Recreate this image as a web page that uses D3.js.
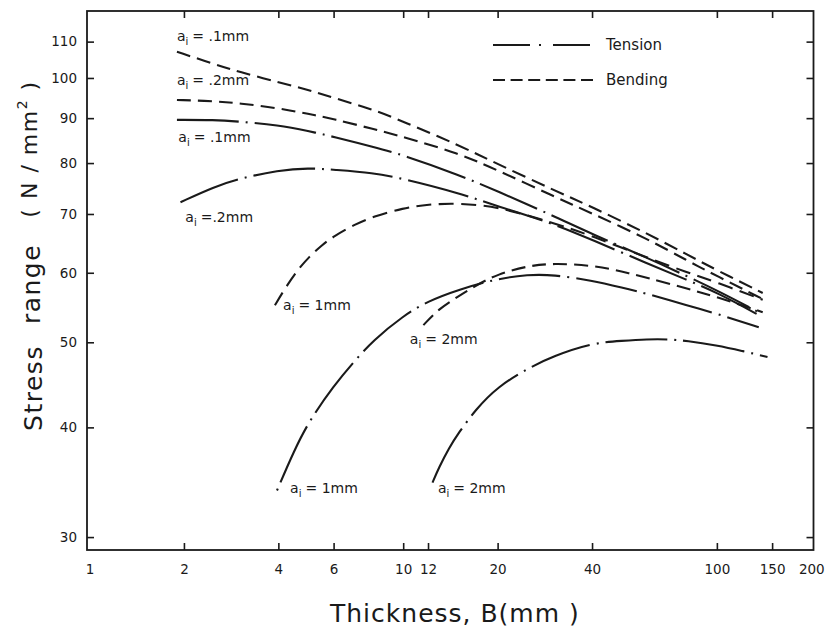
<!DOCTYPE html>
<html>
<head>
<meta charset="utf-8">
<script src="https://cdn.jsdelivr.net/npm/d3@7"></script>
<style>
  body { margin: 0; background: #fff; }
  svg { display: block; }
  text { font-family: "DejaVu Sans", sans-serif; fill: #1a1a1a; }
</style>
</head>
<body>
<div id="chart"></div>
<script>
// stress range vs plate thickness, log-log
const xTicks = [1, 2, 4, 6, 10, 12, 20, 40, 100, 150, 200];
const yTicks = [30, 40, 50, 60, 70, 80, 90, 100, 110];

// thickness B (mm) for the a_i = .1 and .2 mm curves
const thkSmall = [1.9, 2.5, 3, 4, 5, 6, 8, 10, 15, 20, 30, 40, 60, 80, 100, 140];
const bending01 = [107.1, 103.7, 101.6, 98.9, 96.9, 94.9, 92.1, 89.2, 83.9, 79.8, 74.6, 71.3, 66.5, 63.0, 60.4, 56.9];
const bending02 = [94.4, 94.1, 93.6, 92.4, 91.0, 89.8, 87.5, 85.7, 82.1, 78.5, 73.4, 70.1, 65.6, 62.0, 59.5, 56.0];
const tension01 = [89.6, 89.6, 89.2, 88.4, 87.0, 85.7, 83.5, 81.7, 77.6, 74.3, 69.7, 66.4, 62.4, 59.5, 57.3, 53.8];

const thkTension02 = [1.95, 2.5, 3, 4, 5, 6, 8, 10, 15, 20, 30, 40, 60, 80, 100, 140];
const tension02 = [72.2, 75.2, 76.8, 78.5, 79.0, 78.6, 78.0, 76.8, 74.0, 71.4, 68.3, 65.4, 61.5, 58.9, 57.0, 53.4];

const thkBending1 = [3.9, 4.2, 4.6, 5, 5.5, 6, 7, 8, 10, 12, 15, 20, 30, 40, 60, 80, 100, 140];
const bending1 = [55.1, 57.6, 60.4, 62.5, 64.5, 66.0, 68.1, 69.5, 71.1, 71.8, 72.0, 71.4, 68.4, 66.1, 62.4, 60.1, 58.5, 55.9];

const thkBending2 = [11.6, 13, 15, 17, 20, 25, 30, 40, 50, 60, 80, 100, 140];
const bending2 = [52.3, 54.6, 56.4, 58.0, 59.8, 61.1, 61.5, 61.2, 60.2, 59.2, 57.6, 56.3, 54.1];

const thkTension1 = [3.96, 4.5, 5, 6, 7, 8, 10, 12, 15, 20, 25, 30, 40, 50, 60, 80, 100, 136];
const tension1 = [33.9, 37.7, 40.6, 44.6, 47.6, 50.2, 53.6, 55.7, 57.4, 59.1, 59.7, 59.7, 58.8, 57.7, 56.8, 55.1, 53.9, 52.0];

const thkTension2 = [12.4, 13, 14, 15, 17, 20, 25, 30, 40, 50, 60, 70, 80, 100, 120, 145];
const tension2 = [34.6, 36.0, 37.9, 39.4, 41.9, 44.5, 46.7, 48.2, 49.9, 50.2, 50.4, 50.4, 50.2, 49.6, 48.9, 48.1];

const curveLabels = ["= .1mm", "= .2mm", "= .1mm", "=.2mm", "= 1mm", "= 2mm", "=  1mm", "=  2mm"];
// label anchor points in data units (thickness, stress)
const labelThk = [1.9, 1.9, 1.92, 2.02, 4.14, 10.5, 4.36, 12.9];
const labelStress = [110.2, 98.2, 84.6, 68.5, 54.4, 49.8, 33.7, 33.7];

const W = 828, H = 634;
const frame = { left: 87, right: 813.5, top: 11, bottom: 550 };
const ink = "#1a1a1a";

const svg = d3.select("#chart").append("svg")
    .attr("width", W)
    .attr("height", H);

svg.append("rect").attr("width", W).attr("height", H).attr("fill", "#fff");

const x = d3.scaleLog().domain([1, 200]).range([89.5, 811.3]);
const y = d3.scaleLog().domain([29.0, 119.2]).range([frame.bottom, frame.top]);

function styleAxis(g, withLabels) {
    g.select(".domain").remove();
    g.attr("color", ink).attr("font-family", "DejaVu Sans Condensed, DejaVu Sans, sans-serif").attr("font-size", 13.5);
    g.selectAll(".tick line").attr("stroke-width", 1.6);
    if (!withLabels) g.selectAll(".tick text").remove();
}

// bottom + top
const xb = svg.append("g")
    .attr("transform", "translate(0," + frame.bottom + ")")
    .call(d3.axisBottom(x).tickValues(xTicks).tickFormat(d => d).tickSizeInner(-7).tickSizeOuter(0).tickPadding(14));
styleAxis(xb, true);
xb.selectAll(".tick line").filter(d => d === 1 || d === 200).remove();

const xt = svg.append("g")
    .attr("transform", "translate(0," + frame.top + ")")
    .call(d3.axisTop(x).tickValues(xTicks.slice(1, -1)).tickSizeInner(-7).tickSizeOuter(0));
styleAxis(xt, false);

// left + right
const yl = svg.append("g")
    .attr("transform", "translate(" + frame.left + ",0)")
    .call(d3.axisLeft(y).tickValues(yTicks).tickFormat(d => d).tickSizeInner(-7).tickSizeOuter(0).tickPadding(10));
styleAxis(yl, true);

const yr = svg.append("g")
    .attr("transform", "translate(" + frame.right + ",0)")
    .call(d3.axisRight(y).tickValues(yTicks).tickSizeInner(-7).tickSizeOuter(0));
styleAxis(yr, false);

svg.append("rect")
    .attr("x", frame.left)
    .attr("y", frame.top)
    .attr("width", frame.right - frame.left)
    .attr("height", frame.bottom - frame.top)
    .attr("fill", "none")
    .attr("stroke", ink)
    .attr("stroke-width", 1.8);

const dashTension = "62,7,2,7";
const dashBending = "14,7";

const series = [
    { thk: thkSmall, s: bending01, dash: dashBending, offset: 0 },
    { thk: thkSmall, s: bending02, dash: dashBending, offset: 0 },
    { thk: thkSmall, s: tension01, dash: dashTension, offset: 0 },
    { thk: thkTension02, s: tension02, dash: dashTension, offset: 0 },
    { thk: thkBending1, s: bending1, dash: "15,7.5", offset: 0 },
    { thk: thkBending2, s: bending2, dash: "14,7", offset: 0 },
    { thk: thkTension1, s: tension1, dash: dashTension, offset: 69 },
    { thk: thkTension2, s: tension2, dash: dashTension, offset: 0 }
];

const line = d3.line()
    .x(d => x(d[0]))
    .y(d => y(d[1]))
    .curve(d3.curveBasis);

svg.selectAll(".curve")
    .data(series)
    .enter().append("path")
    .attr("class", "curve")
    .attr("d", d => line(d.thk.map((t, i) => [t, d.s[i]])))
    .attr("fill", "none")
    .attr("stroke", ink)
    .attr("stroke-width", 2.1)
    .attr("stroke-dasharray", d => d.dash)
    .attr("stroke-dashoffset", d => d.offset);

// a_i labels
const lab = svg.selectAll(".clabel")
    .data(curveLabels)
    .enter().append("text")
    .attr("class", "clabel")
    .attr("x", (d, i) => x(labelThk[i]))
    .attr("y", (d, i) => y(labelStress[i]))
    .attr("font-size", 14);
lab.append("tspan").text("a");
lab.append("tspan").attr("font-size", 10).attr("dy", 4).text("i");
lab.append("tspan").attr("dy", -4).attr("dx", 4).text(d => d);

// legend
const legend = svg.append("g");
legend.append("line")
    .attr("x1", 493).attr("x2", 591).attr("y1", 45).attr("y2", 45)
    .attr("stroke", ink).attr("stroke-width", 2)
    .attr("stroke-dasharray", "37,9,2,12");
legend.append("line")
    .attr("x1", 493).attr("x2", 593).attr("y1", 80).attr("y2", 80)
    .attr("stroke", ink).attr("stroke-width", 2)
    .attr("stroke-dasharray", "12,5.6");
legend.append("text").attr("x", 606).attr("y", 50).attr("font-size", 15).text("Tension");
legend.append("text").attr("x", 606).attr("y", 85).attr("font-size", 15).text("Bending");

// axis titles
svg.append("text")
    .attr("x", 330).attr("y", 622)
    .attr("font-size", 25)
    .attr("letter-spacing", 1)
    .text("Thickness, B(mm )");

function yTitle(txt, cy, bx, size) {
    return svg.append("text")
        .attr("transform", "translate(" + bx + "," + cy + ") rotate(-90)")
        .attr("text-anchor", "middle")
        .attr("font-size", size)
        .attr("letter-spacing", 1.5)
        .text(txt);
}
yTitle("Stress", 388, 42, 25);
yTitle("range", 284, 40, 25);
const unit = yTitle("", 149, 37, 22);
unit.append("tspan").text("( N / mm");
unit.append("tspan").attr("font-size", 14).attr("dy", -10).text("2");
unit.append("tspan").attr("dy", 10).text(" )");
</script>
</body>
</html>
